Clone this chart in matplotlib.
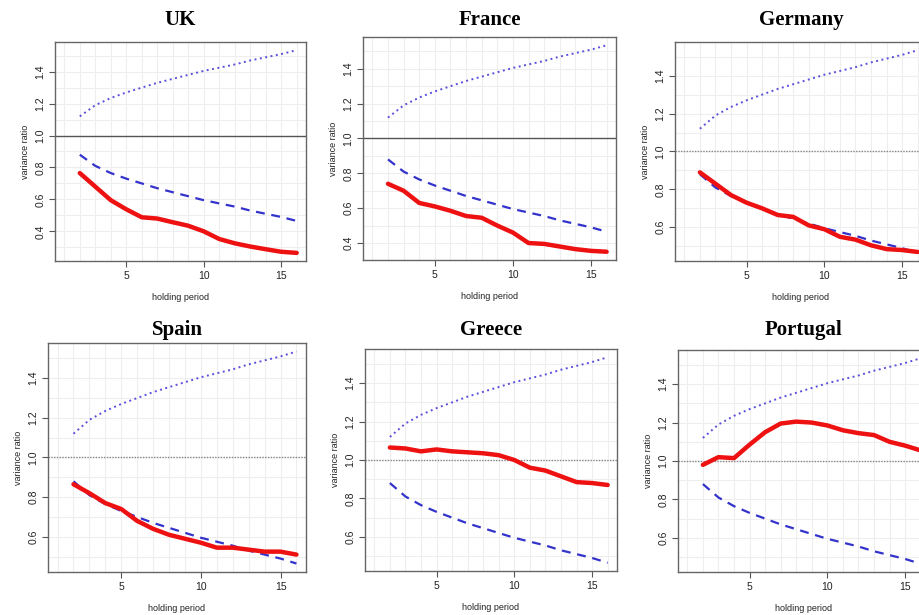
import matplotlib
matplotlib.use("Agg")
import matplotlib.pyplot as plt
import numpy as np

# holding periods
q = [2, 3, 4, 5, 6, 7, 8, 9, 10, 11, 12, 13, 14, 15, 16]

# confidence bounds (same for all countries)
upper = [1.12, 1.19, 1.235, 1.27, 1.30, 1.33, 1.355, 1.38, 1.405, 1.425, 1.445, 1.47, 1.49, 1.51, 1.535]
lower = [0.88, 0.81, 0.765, 0.73, 0.70, 0.67, 0.645, 0.62, 0.595, 0.575, 0.555, 0.53, 0.51, 0.49, 0.465]

# estimated variance ratios
vr_uk = [0.765, 0.68, 0.595, 0.538, 0.488, 0.48, 0.457, 0.435, 0.40, 0.352, 0.325, 0.305, 0.288, 0.272, 0.265]
vr_france = [0.74, 0.70, 0.63, 0.61, 0.585, 0.555, 0.545, 0.50, 0.46, 0.40, 0.395, 0.38, 0.365, 0.355, 0.35]
vr_germany = [0.89, 0.83, 0.77, 0.73, 0.70, 0.665, 0.655, 0.61, 0.59, 0.55, 0.535, 0.505, 0.485, 0.48, 0.47]
vr_spain = [0.865, 0.82, 0.77, 0.74, 0.68, 0.64, 0.61, 0.59, 0.57, 0.545, 0.545, 0.535, 0.525, 0.525, 0.51]
vr_greece = [1.065, 1.06, 1.045, 1.055, 1.045, 1.04, 1.035, 1.025, 1.00, 0.96, 0.945, 0.915, 0.885, 0.88, 0.87]
vr_portugal = [0.98, 1.02, 1.015, 1.085, 1.15, 1.195, 1.205, 1.20, 1.185, 1.16, 1.145, 1.135, 1.10, 1.08, 1.055]

countries = ["UK", "France", "Germany", "Spain", "Greece", "Portugal"]
series = [vr_uk, vr_france, vr_germany, vr_spain, vr_greece, vr_portugal]

W, H = 920, 615
# axes boxes in pixels: left, right, top, bottom
boxes = [
    (55, 306, 42, 261),
    (363, 616, 37, 260),
    (675, 927, 42, 261),
    (48, 306, 343, 572),
    (365, 617, 349, 571),
    (678, 930, 350, 572),
]
title_y = [20, 20, 20, 330, 330, 330]
solid_ref = [True, True, False, False, False, False]

fig = plt.figure(figsize=(W / 100, H / 100), dpi=100)
fig.patch.set_facecolor("white")

for i, (name, vr) in enumerate(zip(countries, series)):
    l, r, t, b = boxes[i]
    ax = fig.add_axes([l / W, 1 - b / H, (r - l) / W, (b - t) / H])

    allv = upper + lower + vr
    lo, hi = min(allv), max(allv)
    pad = 0.04 * (hi - lo)
    ax.set_ylim(lo - pad, hi + pad)
    ax.set_xlim(1 - 0.04 * 15, 16 + 0.04 * 15)

    # light grid
    for gx in np.arange(1, 18, 1):
        ax.axvline(gx, color="#eeeeee", lw=0.8, zorder=0)
    for gy in np.arange(0.1, 1.8, 0.1):
        ax.axhline(gy, color="#eeeeee", lw=0.8, zorder=0)

    if solid_ref[i]:
        ax.axhline(1.0, color="#555555", lw=1.0, zorder=1)
    else:
        ax.axhline(1.0, color="#888888", lw=1.0, ls=(0, (1, 1)), zorder=1)

    ax.plot(q, upper, color="#5a50dd", lw=1.4, ls=(0, (1, 1.8)), zorder=2)
    ax.plot(q, lower, color="#3333cc", lw=1.6, ls=(0, (4, 3)), zorder=2)
    ax.plot(q, vr, color="#ee1111", lw=3.2, zorder=3, solid_capstyle="round")

    ax.set_xticks([5, 10, 15])
    yt = [v for v in [0.4, 0.6, 0.8, 1.0, 1.2, 1.4] if lo - pad <= v <= hi + pad]
    ax.set_yticks(yt)
    ax.set_yticklabels([f"{v:.1f}" for v in yt], rotation=90, va="center")
    ax.tick_params(axis="both", labelsize=7.5, length=4, color="#555555",
                   labelcolor="#222222", pad=3, direction="out",
                   labelfontfamily="Liberation Sans")
    for s in ax.spines.values():
        s.set_color("#666666")
        s.set_linewidth(1.0)

    ax.set_xlabel("holding period", fontsize=6.5, family="Liberation Sans",
                  color="#222222", labelpad=9)
    ax.set_ylabel("variance ratio", fontsize=6.5, family="Liberation Sans",
                  color="#222222", labelpad=4)

    fig.text(((l + r) / 2) / W, 1 - title_y[i] / H, name, ha="center", va="center",
             fontsize=15, fontweight="bold", family="Liberation Serif")

fig.savefig("out.png", dpi=100)
